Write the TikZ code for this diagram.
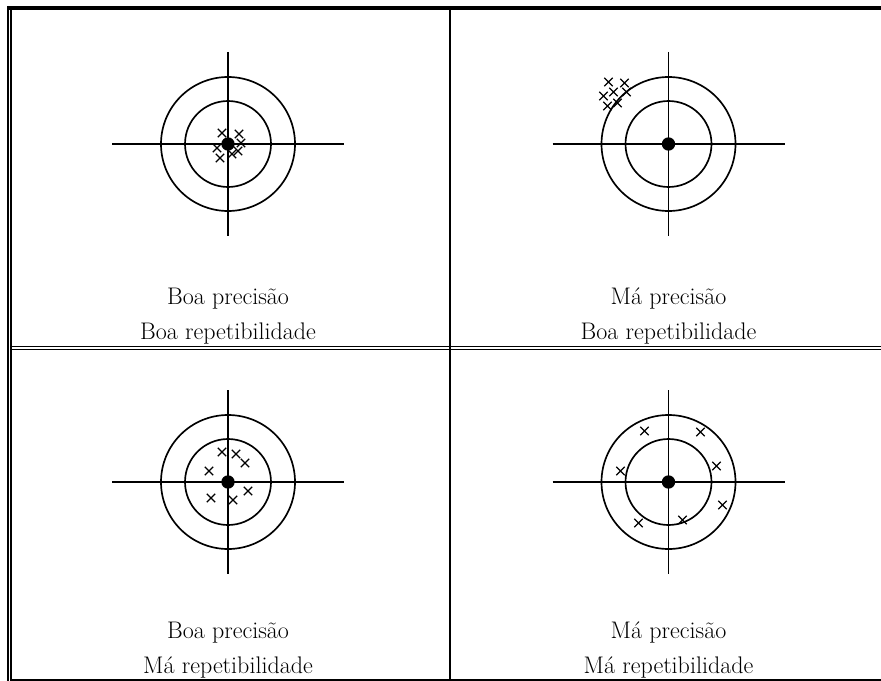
\documentclass[tikz,border=0pt]{standalone}
\usepackage{fontspec}
\usepackage{tikz}
\usetikzlibrary{shapes.misc}
\usetikzlibrary{positioning}

\begin{document}
\begin{tikzpicture}[x=0.75pt, y=-0.75pt]
                \useasboundingbox (0,0) rectangle (881,681);

                % table rules
                \draw[line width=3pt] (7,8) -- (881,8);
                \draw[line width=1.2pt] (8,6) -- (8,681);
                \draw[line width=1.2pt] (11,10) -- (11,681);
                \draw[line width=1.5pt] (450,10) -- (450,680);
                \draw[line width=1.1pt] (11,346.5) -- (881,346.5);
                \draw[line width=1.1pt] (11,349.5) -- (881,349.5);
                \draw[line width=0.9pt] (11,680) -- (881,680);

                % targets
                \begin{scope}[every node/.style={circle, fill, inner sep=0pt, minimum size=10pt}]
                    \node (c1) at (228,144) {};
                    \node (c2) at (668.5,144) {};
                    \node (c3) at (228,482) {};
                    \node (c4) at (668.5,482) {};
                \end{scope}

                \begin{scope}[line width=1.25pt]
                    \foreach \c in {c1,c2,c3,c4} {
                        \draw (\c.center) ++(-116,0) -- ++(232,0);
                        \draw (\c.center) ++(0,-92) -- ++(0,184);
                        \draw (\c.center) circle[radius=43];
                        \draw (\c.center) circle[radius=67];
                    }
                \end{scope}

                % hits
                \begin{scope}[every node/.style={cross out, draw, line width=1pt, inner sep=0pt, minimum size=5.3pt}]
                    \foreach \dx/\dy [count=\i] in {-6/-11, 11/-10, -11/4, 13/-1, 10/7, 4/10, -8/14}
                        \node (a\i) at ([shift={(\dx,\dy)}]c1.center) {};
                    \foreach \dx/\dy [count=\i] in {-60/-62, -44/-61, -55/-52, -65/-48, -42/-52, -61/-38, -51/-41}
                        \node (b\i) at ([shift={(\dx,\dy)}]c2.center) {};
                    \foreach \dx/\dy [count=\i] in {-6/-30, 8/-28, 17/-19, -19/-11, 20/9, -17/16, 5/18}
                        \node (d\i) at ([shift={(\dx,\dy)}]c3.center) {};
                    \foreach \dx/\dy [count=\i] in {-24/-51, 32/-50, -48/-11, 48/-16, 54/23, -30/41, 14/38}
                        \node (e\i) at ([shift={(\dx,\dy)}]c4.center) {};
                \end{scope}

                % captions
                \begin{scope}[every node/.style={anchor=base, inner sep=0pt, font=\fontsize{18}{21}\selectfont}]
                    \node (p1) at (228,304) {Boa precisão};
                    \node (r1) at (228,339) {Boa repetibilidade};
                    \node (p2) at (668.5,304) {Má precisão};
                    \node (r2) at (668.5,339) {Boa repetibilidade};
                    \node (p3) at (228,638) {Boa precisão};
                    \node (r3) at (228,673) {Má repetibilidade};
                    \node (p4) at (668.5,638) {Má precisão};
                    \node (r4) at (668.5,673) {Má repetibilidade};
                \end{scope}
            \end{tikzpicture}
\end{document}
